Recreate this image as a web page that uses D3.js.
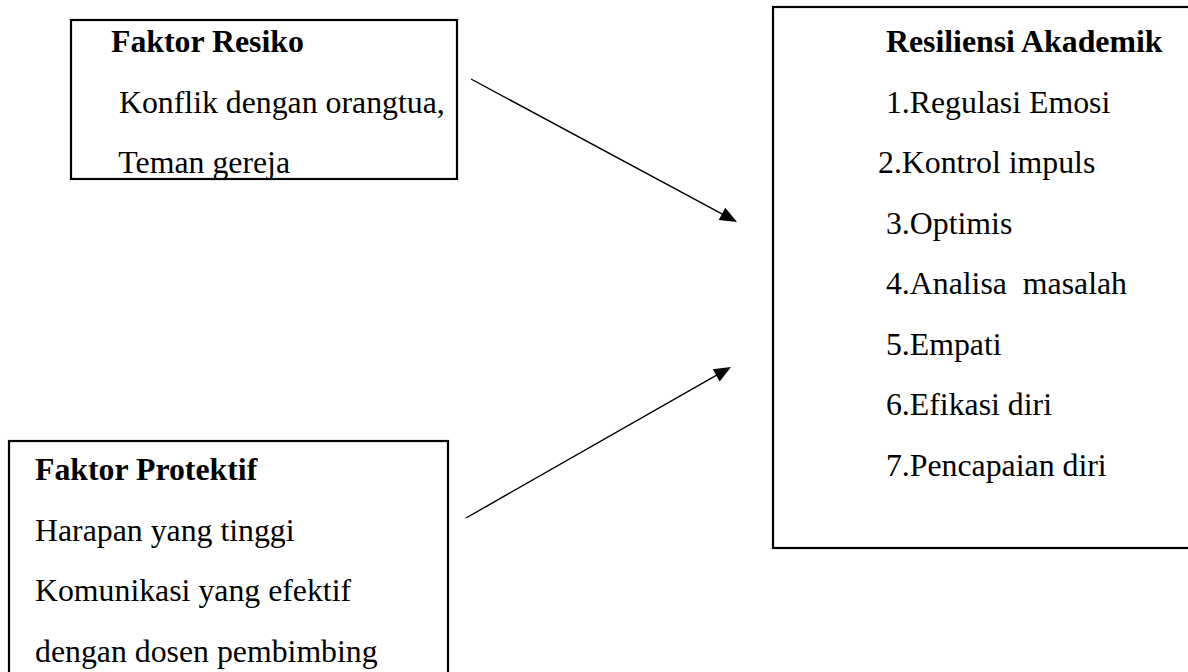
<!DOCTYPE html>
<html>
<head>
<meta charset="utf-8">
<script src="https://cdn.jsdelivr.net/npm/d3@7.9.0/dist/d3.min.js"></script>
<style>
  html, body { margin: 0; padding: 0; background: #fff; }
  svg { display: block; }
  text { font-family: "Liberation Serif", "Times New Roman", serif; font-size: 31.8px; fill: #000; white-space: pre; }
  .title { font-weight: bold; }
</style>
</head>
<body>
<svg width="1188" height="672"></svg>
<script>
// box contents (first line is the bold heading)
const riskLines = ['Faktor Resiko', ' Konflik dengan orangtua,', ' Teman gereja'];
const protectLines = ['Faktor Protektif', 'Harapan yang tinggi', 'Komunikasi yang efektif', 'dengan dosen pembimbing'];
const resilienceLines = [
  ' Resiliensi Akademik',
  ' 1.Regulasi Emosi',
  '2.Kontrol impuls',
  ' 3.Optimis',
  ' 4.Analisa  masalah',
  ' 5.Empati',
  ' 6.Efikasi diri',
  ' 7.Pencapaian diri'
];
// which box feeds which
const links = [['risk', 'resilience'], ['protect', 'resilience']];

const svg = d3.select('svg');

// layout of the diagram
const boxes = [
  {id: 'risk', x: 71, y: 20, w: 386, h: 159, textX: 111, firstBase: 52, lines: riskLines},
  {id: 'protect', x: 9, y: 441, w: 439, h: 260, textX: 35, firstBase: 480, lines: protectLines},
  {id: 'resilience', x: 773, y: 7, w: 440, h: 541, textX: 878, firstBase: 52, lines: resilienceLines}
];
const lineGap = 60.5;
const arrowPos = {
  risk: {from: [471, 79], to: [737, 222]},
  protect: {from: [466, 518], to: [731, 367]}
};

const lineY = d3.scaleLinear().domain([0, 1]).range([0, lineGap]);

boxes.forEach((b) => {
  const g = svg.append('g');
  g.append('rect')
    .attr('x', b.x).attr('y', b.y)
    .attr('width', b.w).attr('height', b.h)
    .attr('fill', 'none')
    .attr('stroke', '#000')
    .attr('stroke-width', 2.2);

  g.selectAll('text')
    .data(b.lines)
    .join('text')
    .attr('class', (_, i) => i === 0 ? 'title' : null)
    .attr('x', b.textX)
    .attr('y', (_, i) => b.firstBase + lineY(i))
    .text((d) => d);
});

// arrows
const headLen = 17, headHalf = 7;
links.forEach(([src]) => {
  const {from, to} = arrowPos[src];
  const dx = to[0] - from[0], dy = to[1] - from[1];
  const len = Math.hypot(dx, dy);
  const ux = dx / len, uy = dy / len;
  const bx = to[0] - ux * headLen, by = to[1] - uy * headLen;

  svg.append('line')
    .attr('x1', from[0]).attr('y1', from[1])
    .attr('x2', bx + ux * 3).attr('y2', by + uy * 3)
    .attr('stroke', '#000')
    .attr('stroke-width', 1.4);

  svg.append('path')
    .attr('d', d3.line()([
      to,
      [bx - uy * headHalf, by + ux * headHalf],
      [bx + uy * headHalf, by - ux * headHalf]
    ]) + 'Z')
    .attr('fill', '#000');
});
</script>
</body>
</html>
